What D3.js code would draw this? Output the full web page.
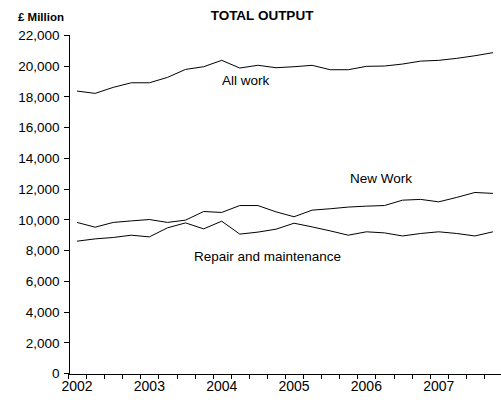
<!DOCTYPE html>
<html>
<head>
  <meta charset="utf-8">
  <title>TOTAL OUTPUT</title>
  <script src="https://d3js.org/d3.v7.min.js"></script>
  <style>
    body { margin: 0; background: #fff; }
    text { font-family: "Liberation Sans", Arial, sans-serif; fill: #000; }
  </style>
</head>
<body>
  <svg width="501" height="400"></svg>
  <script>
    // quarterly, 2002 Q1 .. 2007 Q4
    var years = ["2002", "2003", "2004", "2005", "2006", "2007"];
    var allWork = [18350, 18200, 18590, 18890, 18890, 19240, 19760, 19935,
                   20350, 19850, 20030, 19870, 19935, 20025, 19740, 19740,
                   19960, 19980, 20110, 20300, 20350, 20480, 20650, 20850];
    var newWork = [9800, 9490, 9800, 9900, 9990, 9800, 9950, 10510,
                   10450, 10900, 10900, 10490, 10170, 10600, 10690, 10800,
                   10860, 10900, 11250, 11300, 11140, 11430, 11750, 11690];
    var repair = [8580, 8730, 8820, 8970, 8860, 9450, 9770, 9380,
                  9880, 9040, 9170, 9360, 9750, 9510, 9250, 8970,
                  9190, 9120, 8920, 9080, 9190, 9080, 8920, 9190];
    var yTicks = d3.range(0, 22001, 2000);

    var svg = d3.select("svg");
    var n = allWork.length;

    var x = d3.scaleLinear().domain([0, n]).range([68, 502]);
    var y = d3.scaleLinear().domain([0, 22000]).range([373, 35]);

    // y axis
    var yAxis = d3.axisLeft(y)
        .tickValues(yTicks)
        .tickSize(5)
        .tickPadding(4)
        .tickFormat(d3.format(","));
    var gy = svg.append("g")
        .attr("transform", "translate(68.5,0)")
        .call(yAxis);
    gy.selectAll("text").style("font-size", "13.5px").attr("dy", "0.35em");

    // x axis: ticks between quarters, labels under each Q1
    var xAxis = d3.axisBottom(x)
        .tickValues(d3.range(0, n + 1))
        .tickSize(5)
        .tickFormat("");
    svg.append("g")
        .attr("transform", "translate(0,373.5)")
        .call(xAxis);

    svg.append("g").selectAll("text")
        .data(years)
        .enter().append("text")
        .attr("x", function(d, i) { return x(i * 4 + 0.5); })
        .attr("y", 391)
        .attr("text-anchor", "middle")
        .style("font-size", "14px")
        .text(function(d) { return d; });

    svg.selectAll(".domain, .tick line")
        .attr("stroke", "#000")
        .attr("shape-rendering", "crispEdges");

    var line = d3.line()
        .x(function(d, i) { return x(i + 0.5); })
        .y(function(d) { return y(d); });

    [allWork, newWork, repair].forEach(function(s) {
      svg.append("path")
          .datum(s)
          .attr("fill", "none")
          .attr("stroke", "#000")
          .attr("stroke-width", 1)
          .attr("d", line);
    });

    // labels
    svg.append("text").attr("x", 18).attr("y", 21)
        .style("font-size", "11.5px").style("font-weight", "bold")
        .text("£ Million");
    svg.append("text").attr("x", 262).attr("y", 20)
        .attr("text-anchor", "middle")
        .style("font-size", "13.5px").style("font-weight", "bold")
        .text("TOTAL OUTPUT");
    svg.append("text").attr("x", 222).attr("y", 85)
        .style("font-size", "13.5px").text("All work");
    svg.append("text").attr("x", 350).attr("y", 183)
        .style("font-size", "13.5px").text("New Work");
    svg.append("text").attr("x", 194).attr("y", 261)
        .style("font-size", "13.5px").text("Repair and maintenance");
  </script>
</body>
</html>
